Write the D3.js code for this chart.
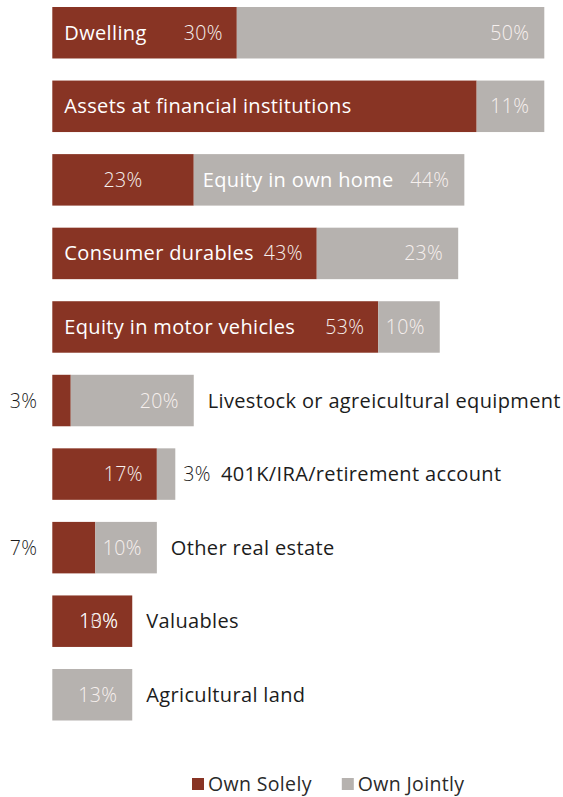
<!DOCTYPE html>
<html>
<head>
<meta charset="utf-8">
<script src="https://cdn.jsdelivr.net/npm/d3@7"></script>
<style>
  html, body { margin: 0; padding: 0; background: #ffffff; }
  svg { display: block; }
  text { font-family: "Open Sans", Lato, sans-serif; letter-spacing: 0.35px; }
</style>
</head>
<body>
<svg id="chart" width="563" height="797"></svg>
<script>
// Share of owners by asset type: owned solely vs. owned jointly (%)
const categories = [
  "Dwelling",
  "Assets at financial institutions",
  "Equity in own home",
  "Consumer durables",
  "Equity in motor vehicles",
  "Livestock or agreicultural equipment",
  "401K/IRA/retirement account",
  "Other real estate",
  "Valuables",
  "Agricultural land"
];
const ownSolely  = [30, 69, 23, 43, 53, 3, 17, 7, 13, 0];
const ownJointly = [50, 11, 44, 23, 10, 20, 3, 10, 0, 13];

// Where each category name sits: inside the solely segment, inside the jointly segment, or after the bar
const namePlacement = ["solely", "solely", "jointly", "solely", "solely", "after", "after", "after", "after", "after"];
// Solely values left without a printed figure
const unlabeledSolely = ["Assets at financial institutions"];
// A second figure printed over the Valuables bar
const extraFigures = [{ category: "Valuables", text: "10%" }];

const seriesNames = ["Own Solely", "Own Jointly"];
const seriesColors = ["#883424", "#b6b2af"];

const svg = d3.select("#chart");

const x = d3.scaleLinear().domain([0, 80]).range([52.3, 544.3]);
const y = d3.scaleBand().domain(categories).range([7, 720.5]).paddingInner(0.3).paddingOuter(0);

const fmt = v => v + "%";
const rows = categories.map((c, i) => ({ category: c, solely: ownSolely[i], jointly: ownJointly[i], place: namePlacement[i] }));

const nameSize = 20, valueSize = 19.5;
const darkText = "#1c1c1c";
const lightText = "#f6f0ee";
const outsideThreshold = 8; // segments narrower than this get their figure outside the bar

const g = svg.append("g");

const row = g.selectAll("g.row").data(rows).join("g").attr("class", "row");

// solely segment
row.append("rect")
  .attr("x", x(0))
  .attr("y", d => y(d.category))
  .attr("width", d => x(d.solely) - x(0))
  .attr("height", y.bandwidth())
  .attr("fill", seriesColors[0]);

// jointly segment
row.append("rect")
  .attr("x", d => x(d.solely))
  .attr("y", d => y(d.category))
  .attr("width", d => x(d.solely + d.jointly) - x(d.solely))
  .attr("height", y.bandwidth())
  .attr("fill", seriesColors[1]);

function textWidth(str, size, weight) {
  const t = svg.append("text").attr("font-size", size).attr("font-weight", weight).text(str);
  const w = t.node().getComputedTextLength();
  t.remove();
  return w;
}

rows.forEach(d => {
  const cy = y(d.category) + y.bandwidth() / 2;
  const rg = g.append("g");
  const barEnd = x(d.solely + d.jointly);
  let afterX = barEnd + 14;

  // solely figure
  if (d.solely > 0 && !unlabeledSolely.includes(d.category)) {
    const t = rg.append("text")
      .attr("y", cy).attr("dy", "0.36em")
      .attr("font-size", valueSize).attr("font-weight", 300)
      .text(fmt(d.solely));
    if (d.solely < outsideThreshold) {
      t.attr("x", x(0) - 15).attr("text-anchor", "end").attr("fill", darkText);
    } else if (d.place === "jointly") {
      t.attr("x", (x(0) + x(d.solely)) / 2).attr("text-anchor", "middle").attr("fill", lightText);
    } else {
      t.attr("x", x(d.solely) - 14).attr("text-anchor", "end").attr("fill", lightText);
    }
  }

  // jointly figure
  if (d.jointly > 0) {
    const t = rg.append("text")
      .attr("y", cy).attr("dy", "0.36em")
      .attr("font-size", valueSize).attr("font-weight", 300)
      .text(fmt(d.jointly));
    if (d.jointly < outsideThreshold) {
      t.attr("x", barEnd + 8).attr("text-anchor", "start").attr("fill", darkText);
      afterX = barEnd + 8 + textWidth(fmt(d.jointly), valueSize, 300) + 10;
    } else {
      t.attr("x", barEnd - 15).attr("text-anchor", "end").attr("fill", lightText);
    }
  }

  // category name
  const nx = d.place === "solely" ? x(0) + 12 : d.place === "jointly" ? x(d.solely) + 9 : afterX;
  rg.append("text")
    .attr("x", nx).attr("y", cy).attr("dy", "0.35em")
    .attr("font-size", nameSize)
    .attr("fill", d.place === "after" ? darkText : "#ffffff")
    .text(d.category);
});

// stray figure over the Valuables bar
extraFigures.forEach(e => {
  const i = categories.indexOf(e.category);
  g.append("text")
    .attr("x", x(ownSolely[i]) - 14)
    .attr("y", y(e.category) + y.bandwidth() / 2).attr("dy", "0.36em")
    .attr("text-anchor", "end")
    .attr("font-size", valueSize).attr("font-weight", 300)
    .attr("fill", lightText)
    .text(e.text);
});

// legend
const legend = svg.append("g").attr("transform", "translate(192, 784)");
let lx = 0;
seriesNames.forEach((name, i) => {
  legend.append("rect").attr("x", lx).attr("y", -6).attr("width", 12).attr("height", 12).attr("fill", seriesColors[i]);
  legend.append("text").attr("x", lx + 16).attr("y", 0).attr("dy", "0.35em")
    .attr("font-size", 19.5).attr("fill", "#2a2a2a").text(name);
  lx += 16 + textWidth(name, 19.5, 400) + 30;
});
</script>
</body>
</html>
